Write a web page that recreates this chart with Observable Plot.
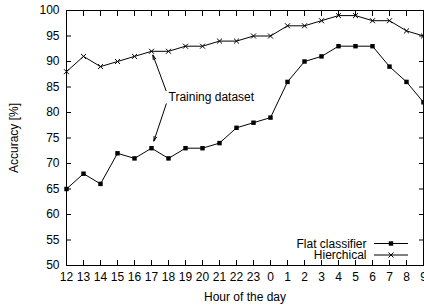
<!DOCTYPE html>
<html><head><meta charset="utf-8">
<script src="https://cdn.jsdelivr.net/npm/d3@7"></script>
<script src="https://cdn.jsdelivr.net/npm/@observablehq/plot@0.6"></script>
<style>body{margin:0;background:#fff}</style>
</head><body><div id="chart"></div>
<script>
const hours = ["12","13","14","15","16","17","18","19","20","21","22","23","0","1","2","3","4","5","6","7","8","9"];
const flat = [65,68,66,72,71,73,71,73,73,74,77,78,79,86,90,91,93,93,93,89,86,82];
const hier = [88,91,89,90,91,92,92,93,93,94,94,95,95,97,97,98,99,99,98,98,96,95];
const yTicks = [50,55,60,65,70,75,80,85,90,95,100];
const seriesNames = ["Flat classifier","Hierchical"];
const annotationText = "Training dataset";
const annotationAt = {hour:"18", acc:83};
const arrowTargets = [{hour:"17", acc:92}, {hour:"17", acc:73}];

const flatData = hours.map((h,i)=>({hour:h, acc:flat[i], series:seriesNames[0]}));
const hierData = hours.map((h,i)=>({hour:h, acc:hier[i], series:seriesNames[1]}));

const font = "'Liberation Sans', Arial, Helvetica, sans-serif";
const chart = Plot.plot({
  width:424, height:308, marginLeft:66, marginRight:1, marginTop:10, marginBottom:43,
  style:{fontFamily:font, fontSize:"12px", background:"#fff", color:"#000"},
  x:{type:"point", domain:hours, padding:0},
  y:{domain:[50,100]},
  marks:[
    Plot.axisX({ticks:hours, tickSize:0, tickPadding:7, label:"Hour of the day", labelAnchor:"center", labelArrow:"none", labelOffset:35, fontSize:12}),
    Plot.axisX({ticks:hours, tickSize:-5, tickFormat:()=>"", label:null}),
    Plot.axisX({anchor:"top", ticks:hours, tickSize:-5, tickFormat:()=>"", label:null}),
    Plot.axisY({ticks:yTicks, tickSize:0, tickPadding:7, label:"Accuracy [%]", labelAnchor:"center", labelArrow:"none", labelOffset:57, fontSize:12}),
    Plot.axisY({ticks:yTicks, tickSize:-5, tickFormat:()=>"", label:null}),
    Plot.axisY({anchor:"right", ticks:yTicks, tickSize:-5, tickFormat:()=>"", label:null}),
    Plot.frame({stroke:"#000"}),
    Plot.line(flatData, {x:"hour", y:"acc", stroke:"#000", strokeWidth:1}),
    Plot.line(hierData, {x:"hour", y:"acc", stroke:"#000", strokeWidth:1}),
    Plot.dot(flatData, {x:"hour", y:"acc", symbol:"square", fill:"#000", r:2.5}),
    Plot.dot(hierData, {x:"hour", y:"acc", symbol:"times", stroke:"#000", strokeWidth:1, r:2.4}),
    Plot.text([annotationAt], {x:"hour", y:"acc", text:()=>annotationText, textAnchor:"start", fontSize:12, fill:"#000"}),
    Plot.arrow([{...arrowTargets[0]}], {x1:()=>annotationAt.hour, y1:()=>annotationAt.acc, x2:"hour", y2:"acc", insetStart:7, insetEnd:4, headLength:7, headAngle:32, stroke:"#000", strokeWidth:1}),
    Plot.arrow([{...arrowTargets[1]}], {x1:()=>annotationAt.hour, y1:()=>annotationAt.acc, x2:"hour", y2:"acc", insetStart:7, insetEnd:7.5, headLength:7, headAngle:32, stroke:"#000", strokeWidth:1})
  ]
});
document.getElementById("chart").appendChild(chart);

// legend (inside frame, bottom right)
const svg = d3.select(chart);
const g = svg.append("g").attr("font-family", font).attr("font-size", 12);
const legendRows = [
  {name:seriesNames[0], y:243.5, sym:d3.symbolSquare, r:2.5, filled:true},
  {name:seriesNames[1], y:255, sym:d3.symbolTimes, r:2.4, filled:false}
];
for (const row of legendRows) {
  g.append("text").attr("x", 366.5).attr("y", row.y).attr("text-anchor","end").attr("dy","0.35em").text(row.name);
  g.append("line").attr("x1",374).attr("x2",408).attr("y1",row.y).attr("y2",row.y).attr("stroke","#000");
  g.append("path").attr("transform",`translate(391,${row.y})`)
    .attr("d", d3.symbol(row.sym, row.r*row.r*Math.PI)())
    .attr("fill", row.filled ? "#000" : "none").attr("stroke", row.filled ? "none" : "#000");
}
</script>
</body></html>
